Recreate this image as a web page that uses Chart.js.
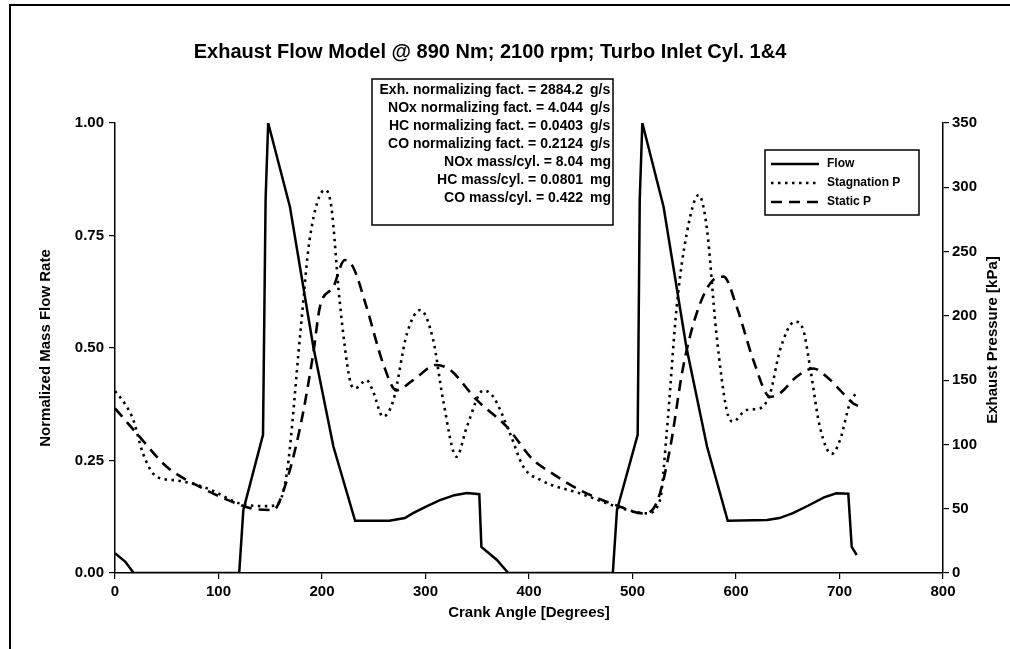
<!DOCTYPE html>
<html>
<head>
<meta charset="utf-8">
<script src="https://cdn.jsdelivr.net/npm/chart.js@4/dist/chart.umd.min.js"></script>
<style>
html,body{margin:0;padding:0;background:#fff;overflow:hidden;}
#wrap{position:absolute;left:0;top:0;width:1010px;height:649px;}
</style>
</head>
<body>
<div id="wrap"><canvas id="c" width="1010" height="649"></canvas></div>
<script>
// ---- Data ----
const chartTitle = "Exhaust Flow Model @ 890 Nm; 2100 rpm; Turbo Inlet Cyl. 1&4";
const xTitle = "Crank Angle [Degrees]";
const yLeftTitle = "Normalized Mass Flow Rate";
const yRightTitle = "Exhaust Pressure [kPa]";
const seriesNames = ["Flow", "Stagnation P", "Static P"];

const flowAngles = [0, 10, 18, 120, 124, 143, 145.5, 148, 169, 191.6, 211, 232, 265, 280, 288, 300, 314, 328, 340, 352, 354, 369, 380,
  481, 485, 505, 507, 509.5, 530, 552, 572, 592, 630, 642, 655, 670, 685, 697, 708.5, 711.8, 716.6];
const flowValues = [0.044, 0.025, 0, 0, 0.14, 0.307, 0.83, 1.0, 0.814, 0.503, 0.281, 0.116, 0.116, 0.122, 0.133, 0.147, 0.162, 0.173, 0.178, 0.175, 0.058, 0.029, 0,
  0, 0.14, 0.307, 0.83, 1.0, 0.814, 0.503, 0.281, 0.116, 0.118, 0.122, 0.133, 0.15, 0.168, 0.177, 0.176, 0.058, 0.04];

const stagAngles = [0, 10, 17.7, 27, 40, 59.6, 88.6, 121, 145, 156, 166, 179, 188, 203, 209, 217, 227, 232, 243, 249, 259, 269, 282, 295, 307.5, 317, 330, 340, 356, 365.5, 381.6, 394.5, 412, 449, 491,
  513.7, 526.6, 533, 542.7, 552.4, 564, 571.7, 581, 591, 597, 610, 623, 633, 642.5, 657, 665, 671.5, 681, 692.4, 700.5, 710, 717];
const stagValues = [141.6, 131, 119, 93, 75, 72, 66, 54, 52, 53, 77.5, 186, 259, 298, 285, 212, 150, 143.6, 150, 142, 121.6, 134.6, 186, 204.6, 181, 134.6, 90.5, 113.8, 142, 137, 108.6, 82.7, 72, 62, 50,
  46.4, 56.8, 108.6, 207, 264, 294, 269, 186.7, 126.8, 117.7, 126.8, 128, 139.8, 173.4, 195.5, 189, 160.5, 113.8, 92.6, 103.4, 132, 141];

const staticAngles = [0, 21, 50, 82, 121, 137, 153, 164, 179, 191.6, 198, 211, 222, 230, 243, 259, 272, 288, 310.7, 323.7, 349.5, 378.5, 404, 420, 449, 488,
  510, 523, 536, 549, 562, 578, 588, 600.7, 616.7, 633, 642.5, 658.6, 674.7, 687.6, 700.5, 713, 718];
const staticValues = [128, 108.6, 82.7, 67, 53, 49.5, 49, 67, 113.8, 171, 207, 222.7, 243.4, 238, 207, 163, 142, 150, 161.8, 158, 134.6, 113.8, 88, 78.8, 64.6, 51.6,
  46.4, 54, 95.7, 160.5, 202, 228, 230.5, 207, 165.7, 137, 139.8, 152.7, 159, 152.7, 142.3, 132, 130];

const xTicks = [0, 100, 200, 300, 400, 500, 600, 700, 800];
const yLeftTicks = [0, 0.25, 0.5, 0.75, 1.0];
const yRightTicks = [0, 50, 100, 150, 200, 250, 300, 350];

const annotLabels = ["Exh. normalizing fact. = 2884.2", "NOx normalizing fact. = 4.044", "HC normalizing fact. = 0.0403",
  "CO normalizing fact. = 0.2124", "NOx mass/cyl. = 8.04", "HC mass/cyl. = 0.0801", "CO mass/cyl. = 0.422"];
const annotUnits = ["g/s", "g/s", "g/s", "g/s", "mg", "mg", "mg"];

// ---- Build ----
const toPts = (xs, ys) => xs.map((x, i) => ({x: x, y: ys[i]}));
const FONT = "'Liberation Sans', Arial, sans-serif";
const dashStag = [2.5, 4.5];
const dashStatic = [11, 7];

const overlay = {
  id: 'overlay',
  afterDraw(chart) {
    const ctx = chart.ctx;
    const ca = chart.chartArea;
    ctx.save();
    // outer frame (top + left)
    ctx.strokeStyle = '#000';
    ctx.lineWidth = 2;
    ctx.beginPath();
    ctx.moveTo(10, 649); ctx.lineTo(10, 5); ctx.lineTo(1010, 5);
    ctx.stroke();
    ctx.fillStyle = '#000';
    // title
    ctx.font = "bold 20px " + FONT;
    ctx.textAlign = 'center'; ctx.textBaseline = 'middle';
    ctx.fillText(chartTitle, 490, 52);
    // axis titles
    ctx.font = "bold 15px " + FONT;
    ctx.fillText(xTitle, (ca.left + ca.right) / 2, 613);
    ctx.save();
    ctx.translate(46, (ca.top + ca.bottom) / 2);
    ctx.rotate(-Math.PI / 2);
    ctx.fillText(yLeftTitle, 0, 0);
    ctx.restore();
    ctx.save();
    ctx.translate(993, 340);
    ctx.rotate(-Math.PI / 2);
    ctx.fillText(yRightTitle, 0, 0);
    ctx.restore();
    // annotation box
    ctx.lineWidth = 1.5;
    ctx.fillStyle = '#fff';
    ctx.fillRect(372, 79, 241, 146);
    ctx.strokeRect(372, 79, 241, 146);
    ctx.fillStyle = '#000';
    ctx.font = "bold 14px " + FONT;
    for (let i = 0; i < annotLabels.length; i++) {
      const y = 90 + i * 18;
      ctx.textAlign = 'right';
      ctx.fillText(annotLabels[i], 583, y);
      ctx.textAlign = 'left';
      ctx.fillText(annotUnits[i], 590, y);
    }
    // legend
    ctx.fillStyle = '#fff';
    ctx.fillRect(765, 150, 154, 65);
    ctx.strokeRect(765, 150, 154, 65);
    ctx.fillStyle = '#000';
    ctx.font = "bold 12px " + FONT;
    const dsets = chart.data.datasets;
    for (let i = 0; i < dsets.length; i++) {
      const y = 164 + i * 19;
      ctx.save();
      ctx.lineWidth = dsets[i].borderWidth;
      ctx.setLineDash(dsets[i].borderDash || []);
      ctx.beginPath();
      ctx.moveTo(771, y); ctx.lineTo(819, y);
      ctx.stroke();
      ctx.restore();
      ctx.textAlign = 'left';
      ctx.fillText(dsets[i].label, 827, y);
    }
    ctx.restore();
  }
};

const axisCommon = {
  grid: {display: true, drawOnChartArea: false, drawTicks: true, tickLength: 6, color: '#000', lineWidth: 1.2},
  border: {display: true, color: '#000', width: 1.5},
};

new Chart(document.getElementById('c'), {
  type: 'line',
  data: {
    datasets: [
      {label: seriesNames[0], data: toPts(flowAngles, flowValues), yAxisID: 'y', borderColor: '#000', borderWidth: 2.5, pointRadius: 0, tension: 0, fill: false},
      {label: seriesNames[1], data: toPts(stagAngles, stagValues), yAxisID: 'y1', borderColor: '#000', borderWidth: 2.6, borderDash: dashStag, pointRadius: 0, cubicInterpolationMode: 'monotone', fill: false},
      {label: seriesNames[2], data: toPts(staticAngles, staticValues), yAxisID: 'y1', borderColor: '#000', borderWidth: 2.6, borderDash: dashStatic, pointRadius: 0, cubicInterpolationMode: 'monotone', fill: false}
    ]
  },
  options: {
    responsive: false,
    animation: false,
    events: [],
    layout: {padding: {top: 123, left: 0, right: 0, bottom: 0}},
    plugins: {legend: {display: false}, title: {display: false}, tooltip: {enabled: false}},
    scales: {
      x: Object.assign({}, axisCommon, {
        type: 'linear', min: 0, max: 800,
        afterBuildTicks: s => { s.ticks = xTicks.map(v => ({value: v})); },
        afterFit: s => { s.height = 76; },
        ticks: {color: '#000', font: {family: FONT, size: 15, weight: 'bold'}, padding: 4, maxRotation: 0}
      }),
      y: Object.assign({}, axisCommon, {
        position: 'left', min: 0, max: 1,
        afterBuildTicks: s => { s.ticks = yLeftTicks.map(v => ({value: v})); },
        afterFit: s => { s.width = 115; },
        ticks: {color: '#000', font: {family: FONT, size: 15, weight: 'bold'}, padding: 5, callback: v => Number(v).toFixed(2)}
      }),
      y1: Object.assign({}, axisCommon, {
        position: 'right', min: 0, max: 350,
        afterBuildTicks: s => { s.ticks = yRightTicks.map(v => ({value: v})); },
        afterFit: s => { s.width = 67; },
        ticks: {color: '#000', font: {family: FONT, size: 15, weight: 'bold'}, padding: 3}
      })
    }
  },
  plugins: [overlay]
});
</script>
</body>
</html>
